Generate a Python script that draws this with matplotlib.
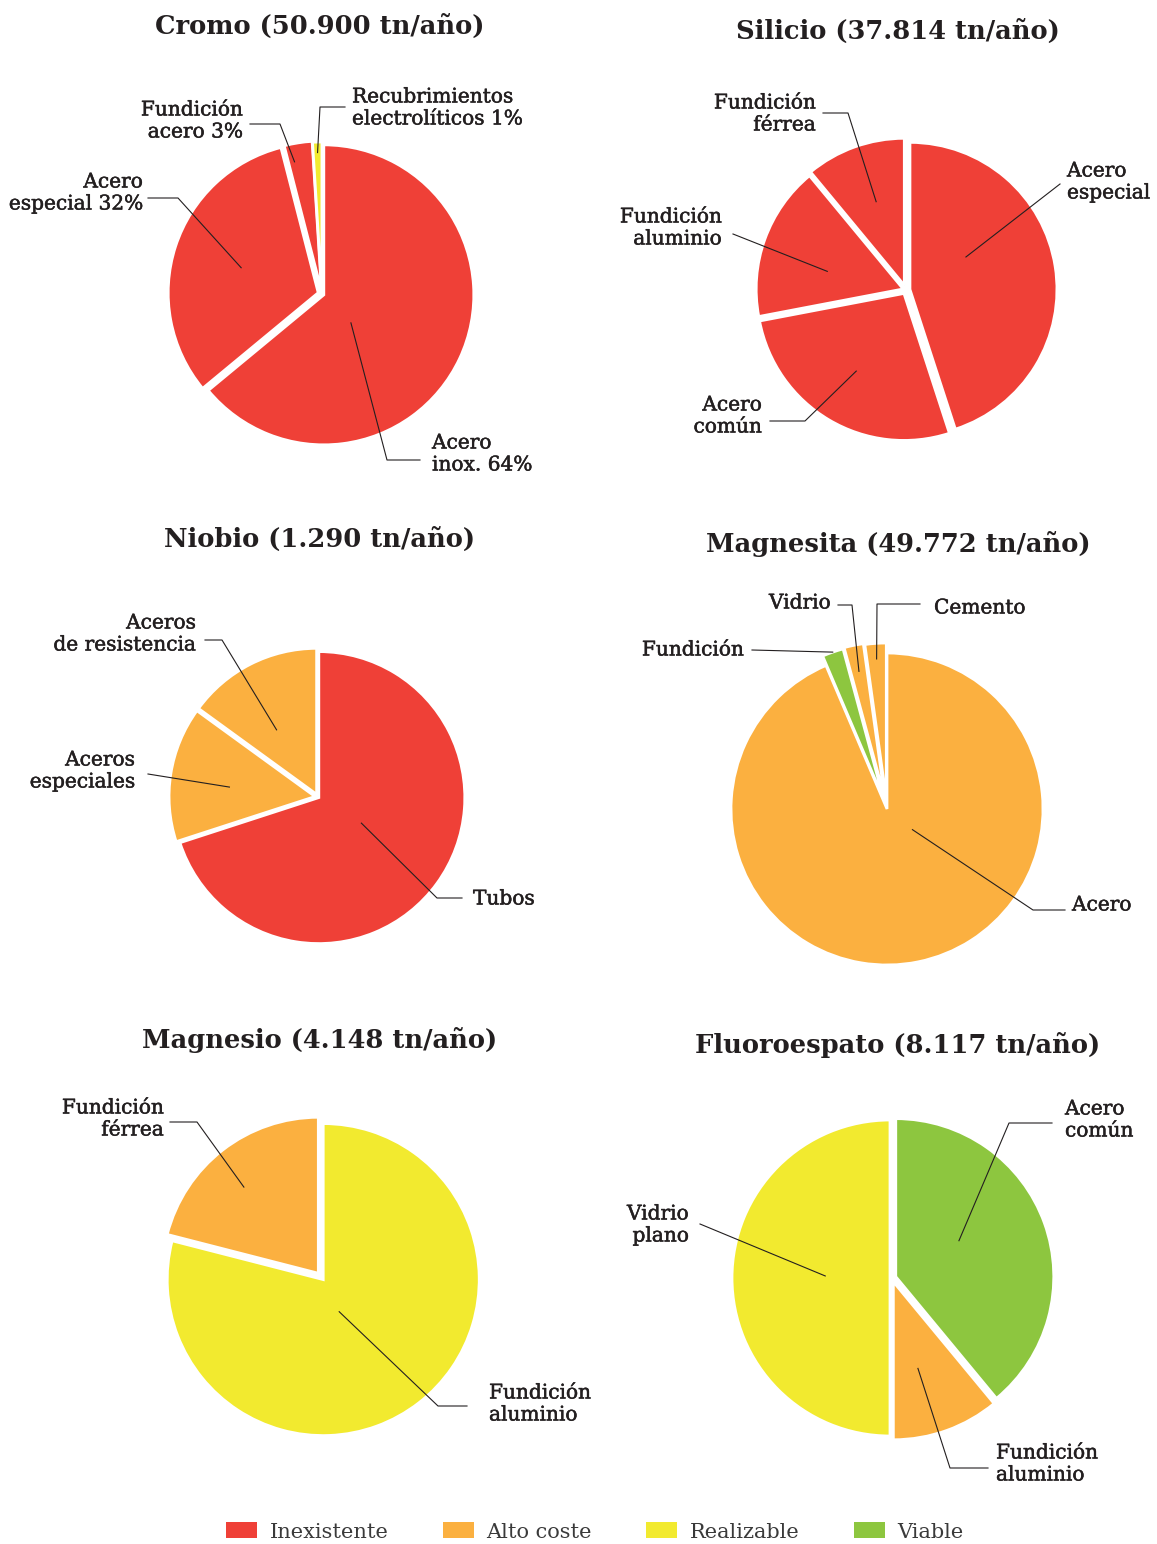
import numpy as np
import matplotlib.pyplot as plt
import matplotlib.patheffects as pe
from matplotlib.patches import Patch

W, H = 1157, 1544

# colores por viabilidad de sustitución
INEX = '#ef4037'
ALTO = '#fbb040'
REAL = '#f2ea2f'
VIAB = '#8dc63f'
TXT = '#231f20'

legend_labels = ['Inexistente', 'Alto coste', 'Realizable', 'Viable']
legend_colors = [INEX, ALTO, REAL, VIAB]

cromo_title = 'Cromo (50.900 tn/año)'
cromo_labels = ['Acero\ninox. 64%', 'Acero\nespecial 32%', 'Fundición\nacero 3%',
                'Recubrimientos\nelectrolíticos 1%']
cromo_values = [64, 32, 3, 1]
cromo_colors = [INEX, INEX, INEX, REAL]

silicio_title = 'Silicio (37.814 tn/año)'
silicio_labels = ['Acero\nespecial', 'Acero\ncomún', 'Fundición\naluminio', 'Fundición\nférrea']
silicio_values = [45, 27, 17, 11]
silicio_colors = [INEX, INEX, INEX, INEX]

niobio_title = 'Niobio (1.290 tn/año)'
niobio_labels = ['Tubos', 'Aceros\nespeciales', 'Aceros\nde resistencia']
niobio_values = [70, 15, 15]
niobio_colors = [INEX, ALTO, ALTO]

magnesita_title = 'Magnesita (49.772 tn/año)'
magnesita_labels = ['Acero', 'Fundición', 'Vidrio', 'Cemento']
magnesita_values = [93.6, 2.2, 2.0, 2.2]
magnesita_colors = [ALTO, VIAB, ALTO, ALTO]

magnesio_title = 'Magnesio (4.148 tn/año)'
magnesio_labels = ['Fundición\naluminio', 'Fundición\nférrea']
magnesio_values = [79, 21]
magnesio_colors = [REAL, ALTO]

fluor_title = 'Fluoroespato (8.117 tn/año)'
fluor_labels = ['Acero\ncomún', 'Fundición\naluminio', 'Vidrio\nplano']
fluor_values = [39, 11, 50]
fluor_colors = [VIAB, ALTO, REAL]

# layout in pixels (y measured from the top)
# each label: (t along wedge, radial fraction, leader path, text position, alignment)
charts = [
    dict(title=cromo_title, tpos=(320, 26), center=(322, 294), r=150,
         values=cromo_values, colors=cromo_colors, labels=cromo_labels,
         explode=[2, 4, 3, 2],
         lab=[(0.41, 0.26, [(387, 460), (420, 460)], (432, 454), 'left'),
              (0.50, 0.54, [(178, 198), (148, 198)], (143, 193), 'right'),
              (0.76, 0.88, [(280, 124), (250, 124)], (243, 121), 'right'),
              (0.50, 0.93, [(320, 107), (345, 107)], (352, 108), 'left')]),
    dict(title=silicio_title, tpos=(898, 31), center=(906, 290), r=147,
         values=silicio_values, colors=silicio_colors, labels=silicio_labels,
         explode=[4, 4, 3, 5],
         lab=[(0.63, 0.44, [(1060, 184)], (1067, 182), 'left'),
              (0.49, 0.62, [(805, 421), (770, 421)], (762, 416), 'right'),
              (0.61, 0.53, [(733, 234)], (722, 228), 'right'),
              (0.47, 0.60, [(848, 113), (823, 113)], (816, 114), 'right')]),
    dict(title=niobio_title, tpos=(320, 539), center=(318, 797), r=146,
         values=niobio_values, colors=niobio_colors, labels=niobio_labels,
         explode=[1, 3, 3],
         lab=[(0.52, 0.34, [(437, 898), (462, 898)], (473, 899), 'left'),
              (0.55, 0.59, [(148, 774)], (135, 771), 'right'),
              (0.59, 0.52, [(222, 640), (205, 640)], (196, 634), 'right')]),
    dict(title=magnesita_title, tpos=(898, 544), center=(887, 809), r=156,
         values=magnesita_values, colors=magnesita_colors, labels=magnesita_labels,
         explode=[0, 10, 11, 10],
         lab=[(0.617, 0.21, [(1033, 910), (1065, 910)], (1072, 905), 'left'),
              (0.50, 1.00, [(752, 650)], (744, 650), 'right'),
              (0.50, 0.83, [(852, 605), (838, 605)], (831, 603), 'right'),
              (0.50, 0.90, [(877, 604), (920, 604)], (934, 608), 'left')]),
    dict(title=magnesio_title, tpos=(320, 1040), center=(322, 1278), r=156,
         values=magnesio_values, colors=magnesio_colors, labels=magnesio_labels,
         explode=[2, 6],
         lab=[(0.46, 0.23, [(438, 1406), (467, 1406)], (489, 1404), 'left'),
              (0.54, 0.73, [(197, 1122), (170, 1122)], (164, 1119), 'right')]),
    dict(title=fluor_title, tpos=(898, 1045), center=(892, 1278), r=158,
         values=fluor_values, colors=fluor_colors, labels=fluor_labels,
         explode=[4, 4, 2],
         lab=[(0.57, 0.46, [(1009, 1123), (1052, 1123)], (1065, 1120), 'left'),
              (0.40, 0.57, [(950, 1468), (988, 1468)], (996, 1464), 'left'),
              (0.49, 0.41, [(700, 1224)], (689, 1225), 'right')]),
]

plt.rcParams['font.family'] = ['DejaVu Serif']

fig = plt.figure(figsize=(W / 100, H / 100), dpi=100)
ax = fig.add_axes([0, 0, 1, 1])

# a touch heavier strokes for the callout text
medium = [pe.withStroke(linewidth=0.35, foreground=TXT)]

for ch in charts:
    cx, cy = ch['center']
    wedges, _ = ax.pie(ch['values'], colors=ch['colors'], startangle=90,
                       counterclock=False, center=(cx, H - cy), radius=ch['r'],
                       explode=ch['explode'], frame=True,
                       wedgeprops=dict(edgecolor='white', linewidth=2))
    ax.text(ch['tpos'][0], H - ch['tpos'][1], ch['title'], ha='center', va='center',
            fontsize=18.5, fontweight='bold', color=TXT)
    for w, text, (t, rf, path, tp, ha) in zip(wedges, ch['labels'], ch['lab']):
        ang = np.deg2rad(w.theta1 + t * (w.theta2 - w.theta1))
        ax0 = w.center[0] + rf * w.r * np.cos(ang)
        ay0 = w.center[1] + rf * w.r * np.sin(ang)
        xs = [ax0] + [p[0] for p in path]
        ys = [ay0] + [H - p[1] for p in path]
        ax.plot(xs, ys, color=TXT, lw=0.8)
        ax.text(tp[0], H - tp[1], text, ha=ha, va='center', fontsize=14.5,
                color=TXT, linespacing=1.2, multialignment=ha, path_effects=medium)

# keep the axes in pixel units
ax.set_xlim(0, W)
ax.set_ylim(0, H)
ax.set_aspect('equal')
ax.axis('off')

handles = [Patch(facecolor=c, edgecolor='none') for c in legend_colors]
fig.legend(handles, legend_labels, ncol=4, loc='center',
           bbox_to_anchor=(0.514, 1 - 1532 / H), frameon=False,
           handlelength=1.5, handleheight=0.8, handletextpad=0.6,
           columnspacing=2.6, prop=dict(family='DejaVu Serif', size=15),
           labelcolor='#3a3a3a')

fig.savefig('out.png', dpi=100)
